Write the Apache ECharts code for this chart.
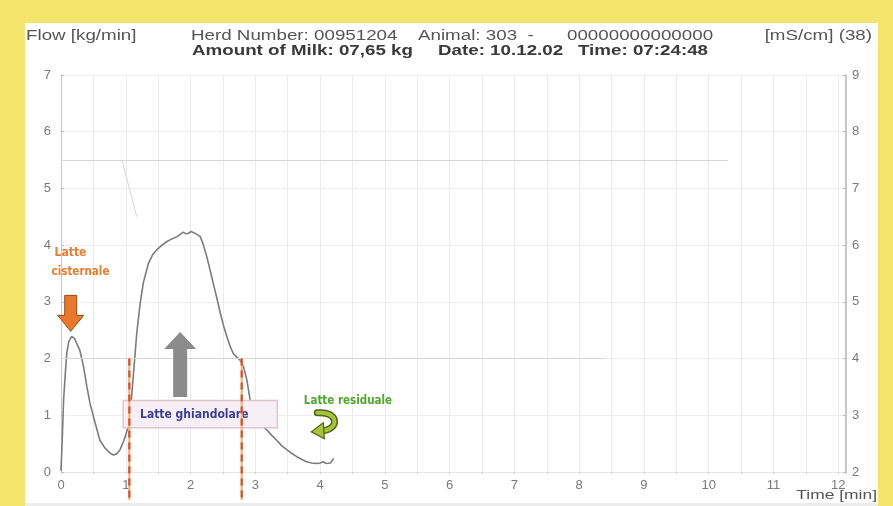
<!DOCTYPE html>
<html>
<head>
<meta charset="utf-8">
<script src="https://cdn.jsdelivr.net/npm/echarts@6/dist/echarts.min.js"></script>
<style>
  html, body { margin: 0; padding: 0; background: #ffffff; }
  #chart { width: 893px; height: 506px; }
</style>
</head>
<body>
<div id="chart"></div>
<script>
// Milking curve: time in minutes, milk flow in kg/min
const timeMin = [0, 0.02, 0.04, 0.07, 0.09, 0.12, 0.165, 0.21, 0.29, 0.35, 0.40, 0.45, 0.50, 0.60, 0.68, 0.76, 0.81, 0.86, 0.91, 0.97,
  1.04, 1.08, 1.12, 1.17, 1.22, 1.27, 1.35, 1.42, 1.48, 1.55, 1.63, 1.71, 1.79, 1.84, 1.89, 1.93, 1.97, 2.01, 2.04, 2.10,
  2.15, 2.20, 2.25, 2.30, 2.35, 2.41, 2.46, 2.51, 2.56, 2.61, 2.66, 2.71, 2.76, 2.82, 2.87, 2.92, 2.97, 3.02, 3.10, 3.18,
  3.25, 3.33, 3.41, 3.49, 3.56, 3.64, 3.72, 3.79, 3.87, 3.95, 4.00, 4.05, 4.09, 4.12, 4.16, 4.21];
const flowKgMin = [0.02, 0.6, 1.27, 1.8, 2.1, 2.3, 2.39, 2.35, 2.15, 1.85, 1.5, 1.2, 0.98, 0.56, 0.42, 0.33, 0.30, 0.32, 0.39, 0.55,
  0.80, 1.2, 1.74, 2.45, 2.95, 3.33, 3.68, 3.84, 3.92, 3.99, 4.06, 4.11, 4.15, 4.19, 4.23, 4.20, 4.21, 4.24, 4.21, 4.19,
  4.15, 4.00, 3.80, 3.57, 3.33, 3.05, 2.80, 2.58, 2.39, 2.22, 2.09, 2.03, 1.98, 1.85, 1.62, 1.27, 1.08, 0.92, 0.82, 0.74,
  0.65, 0.56, 0.46, 0.39, 0.33, 0.27, 0.22, 0.18, 0.16, 0.15, 0.16, 0.18, 0.15, 0.12, 0.16, 0.24];

// Phase boundaries (min) and the flow level where the markers start
const phaseBounds = [1.055, 2.79];
const phaseTop = 2.0;

// Faint reference traces (time, flow-axis level)
const refTraces = [
  [[0, 5.5], [10.3, 5.5]],
  [[0.94, 5.5], [1.17, 4.5]],
  [[0, 2.0], [8.4, 2.0]]
];

const flowTicks = { min: 0, max: 7 };
const condTicks = { min: 2, max: 9 };
const timeRange = { min: 0, max: 12.12 };

const header1 = [
  { text: 'Flow [kg/min]', x: 26 },
  { text: 'Herd Number: 00951204', x: 191 },
  { text: 'Animal: 303  -', x: 418 },
  { text: '00000000000000', x: 567 }
];
const header2 = [
  { text: 'Amount of Milk: 07,65 kg', x: 192 },
  { text: 'Date: 10.12.02', x: 438 },
  { text: 'Time: 07:24:48', x: 578 }
];

const FONT = '"Liberation Sans", Arial, sans-serif';
const ANN_FONT = '"DejaVu Sans Condensed", "DejaVu Sans", sans-serif';
const WIDE = 1.34; // horizontal stretch of the printout lettering

const chart = echarts.init(document.getElementById('chart'), null, { renderer: 'canvas' });

const flowData = timeMin.map((t, i) => [t, flowKgMin[i]]);

chart.setOption({
  backgroundColor: '#ffffff',
  animation: false,
  grid: { left: 61, right: 47, top: 75, bottom: 34, containLabel: false },
  xAxis: {
    type: 'value', min: timeRange.min, max: timeRange.max, interval: 0.5,
    axisLine: { show: true, lineStyle: { color: '#e6e6e6', width: 1 } },
    axisTick: { show: true, length: 2, lineStyle: { color: '#cfcfcf' } },
    splitLine: { show: true, lineStyle: { color: '#ececec', width: 1 } },
    axisLabel: {
      color: '#7a7a7a', fontFamily: FONT, fontSize: 13, margin: 7,
      formatter: v => (Math.abs(v - Math.round(v)) < 1e-6 ? String(Math.round(v)) : '')
    }
  },
  yAxis: [
    {
      type: 'value', min: flowTicks.min, max: flowTicks.max, interval: 1, position: 'left',
      axisLine: { show: true, lineStyle: { color: '#c8c8c8', width: 1 } },
      axisTick: { show: true, inside: true, length: 3, lineStyle: { color: '#bbbbbb' } },
      splitLine: { show: true, lineStyle: { color: '#eeeeee', width: 1 } },
      axisLabel: { color: '#7a7a7a', fontFamily: FONT, fontSize: 13, margin: 10 }
    },
    {
      type: 'value', min: condTicks.min, max: condTicks.max, interval: 1, position: 'right',
      axisLine: { show: true, lineStyle: { color: '#b8b8b8', width: 1.5 } },
      axisTick: { show: true, inside: true, length: 3, lineStyle: { color: '#bbbbbb' } },
      splitLine: { show: false },
      axisLabel: { color: '#7a7a7a', fontFamily: FONT, fontSize: 13, margin: 6 }
    }
  ],
  series: [
    {
      name: 'Flow',
      type: 'line',
      data: flowData,
      showSymbol: false,
      smooth: false,
      lineStyle: { color: '#7c7c7c', width: 1.6 },
      z: 3,
      markLine: {
        silent: true,
        symbol: ['none', 'none'],
        label: { show: false },
        lineStyle: { color: '#d6d6d6', width: 1, type: 'solid' },
        data: refTraces.map(seg => [{ coord: seg[0] }, { coord: seg[1] }])
      }
    }
  ]
});

// Annotations, anchored to data positions on the flow/time scales
const px = (t, v) => chart.convertToPixel({ gridIndex: 0 }, [t, v]);
const g = [];

// Frame around the plot panel
g.push({ type: 'rect', shape: { x: 0, y: 0, width: 893, height: 23 }, style: { fill: '#f4e46c' }, z: 1 });
g.push({ type: 'rect', shape: { x: 0, y: 0, width: 25, height: 506 }, style: { fill: '#f4e46c' }, z: 1 });
g.push({ type: 'rect', shape: { x: 878, y: 0, width: 15, height: 506 }, style: { fill: '#f4e46c' }, z: 1 });
g.push({ type: 'rect', shape: { x: 25, y: 503, width: 853, height: 3 }, style: { fill: '#ececec' }, z: 1 });

// Header lines (wide lettering)
header1.forEach(h => g.push({ type: 'text', x: h.x, y: 36, z: 50, scaleX: WIDE,
  style: { text: h.text, fill: '#555555', font: '14px ' + FONT, textVerticalAlign: 'middle' } }));
g.push({ type: 'text', x: 872, y: 36, z: 50, scaleX: WIDE,
  style: { text: '[mS/cm] (38)', fill: '#555555', font: '14px ' + FONT, textAlign: 'right', textVerticalAlign: 'middle' } });
header2.forEach(h => g.push({ type: 'text', x: h.x, y: 51, z: 50, scaleX: WIDE,
  style: { text: h.text, fill: '#3a3a3a', font: 'bold 14px ' + FONT, textVerticalAlign: 'middle' } }));
g.push({ type: 'text', x: 877, y: 495, z: 50, scaleX: WIDE,
  style: { text: 'Time [min]', fill: '#555555', font: '13px ' + FONT, textAlign: 'right', textVerticalAlign: 'middle' } });

// "Latte ghiandolare" box
const boxA = px(0.96, 1.26), boxB = px(3.34, 0.78);
g.push({ type: 'rect', z: 60,
  shape: { x: boxA[0], y: boxA[1], width: boxB[0] - boxA[0], height: boxB[1] - boxA[1] },
  style: { fill: '#f6eff5', stroke: '#e2c4cf', lineWidth: 1.5 } });
g.push({ type: 'text', z: 61, x: (boxA[0] + boxB[0]) / 2 - 6, y: (boxA[1] + boxB[1]) / 2 + 1,
  style: { text: 'Latte ghiandolare', fill: '#3a3f9a', font: 'bold 12px ' + ANN_FONT, textAlign: 'center', textVerticalAlign: 'middle' } });

// Phase boundary markers (dash-dot), running down past the time axis
phaseBounds.forEach(t => {
  const top = px(t, phaseTop);
  g.push({ type: 'line', z: 70, shape: { x1: top[0], y1: top[1], x2: top[0], y2: 500 },
    style: { stroke: '#f2b27e', lineWidth: 2.2 } });
  g.push({ type: 'line', z: 71, shape: { x1: top[0], y1: top[1], x2: top[0], y2: 500 },
    style: { stroke: '#d9502c', lineWidth: 2.2, lineDash: [7, 5] } });
});

// Orange arrow pointing at the first (cisternal) peak
const oa = px(0.15, 2.48); // arrow tip
g.push({ type: 'polygon', z: 80,
  shape: { points: [[oa[0] - 6, oa[1] - 36], [oa[0] + 6, oa[1] - 36], [oa[0] + 6, oa[1] - 16], [oa[0] + 13, oa[1] - 16],
    [oa[0], oa[1]], [oa[0] - 13, oa[1] - 16], [oa[0] - 6, oa[1] - 16]] },
  style: { fill: '#e9782a', stroke: '#9a4a16', lineWidth: 1 } });
const lc = px(-0.13, 3.86);
g.push({ type: 'text', z: 80, x: lc[0] + 2, y: lc[1],
  style: { text: 'Latte', fill: '#ea7a2c', font: 'bold 12px ' + ANN_FONT, textVerticalAlign: 'middle' } });
g.push({ type: 'text', z: 80, x: lc[0] - 1, y: lc[1] + 19,
  style: { text: 'cisternale', fill: '#ea7a2c', font: 'bold 11.5px ' + ANN_FONT, textVerticalAlign: 'middle' } });

// Gray arrow for the gland milk phase
const ga = px(1.84, 2.47);
g.push({ type: 'polygon', z: 80,
  shape: { points: [[ga[0], ga[1]], [ga[0] + 16, ga[1] + 17], [ga[0] + 7, ga[1] + 17], [ga[0] + 7, ga[1] + 65],
    [ga[0] - 7, ga[1] + 65], [ga[0] - 7, ga[1] + 17], [ga[0] - 16, ga[1] + 17]] },
  style: { fill: '#8b8b8b' } });

// Residual milk label and curved green arrow
const rl = px(4.43, 1.25);
g.push({ type: 'text', z: 80, x: rl[0], y: rl[1],
  style: { text: 'Latte residuale', fill: '#4fa82c', font: 'bold 11.5px ' + ANN_FONT, textAlign: 'center', textVerticalAlign: 'middle' } });
const ca = px(4.05, 0.85);
const hookShape = {
  x1: ca[0] - 6, y1: ca[1] - 11,
  cpx1: ca[0] + 16, cpy1: ca[1] - 13,
  cpx2: ca[0] + 16, cpy2: ca[1] + 6,
  x2: ca[0] - 1, y2: ca[1] + 7
};
g.push({ type: 'bezierCurve', z: 80, shape: hookShape, style: { fill: null, stroke: '#4d6614', lineWidth: 7, lineCap: 'round' } });
g.push({ type: 'bezierCurve', z: 81, shape: hookShape, style: { fill: null, stroke: '#a9c43c', lineWidth: 4, lineCap: 'round' } });
g.push({ type: 'polygon', z: 82,
  shape: { points: [[ca[0], ca[1] - 1], [ca[0] - 12, ca[1] + 8], [ca[0] + 1, ca[1] + 15]] },
  style: { fill: '#a9c43c', stroke: '#4d6614', lineWidth: 1.2 } });

chart.setOption({ graphic: { elements: g } });
</script>
</body>
</html>
